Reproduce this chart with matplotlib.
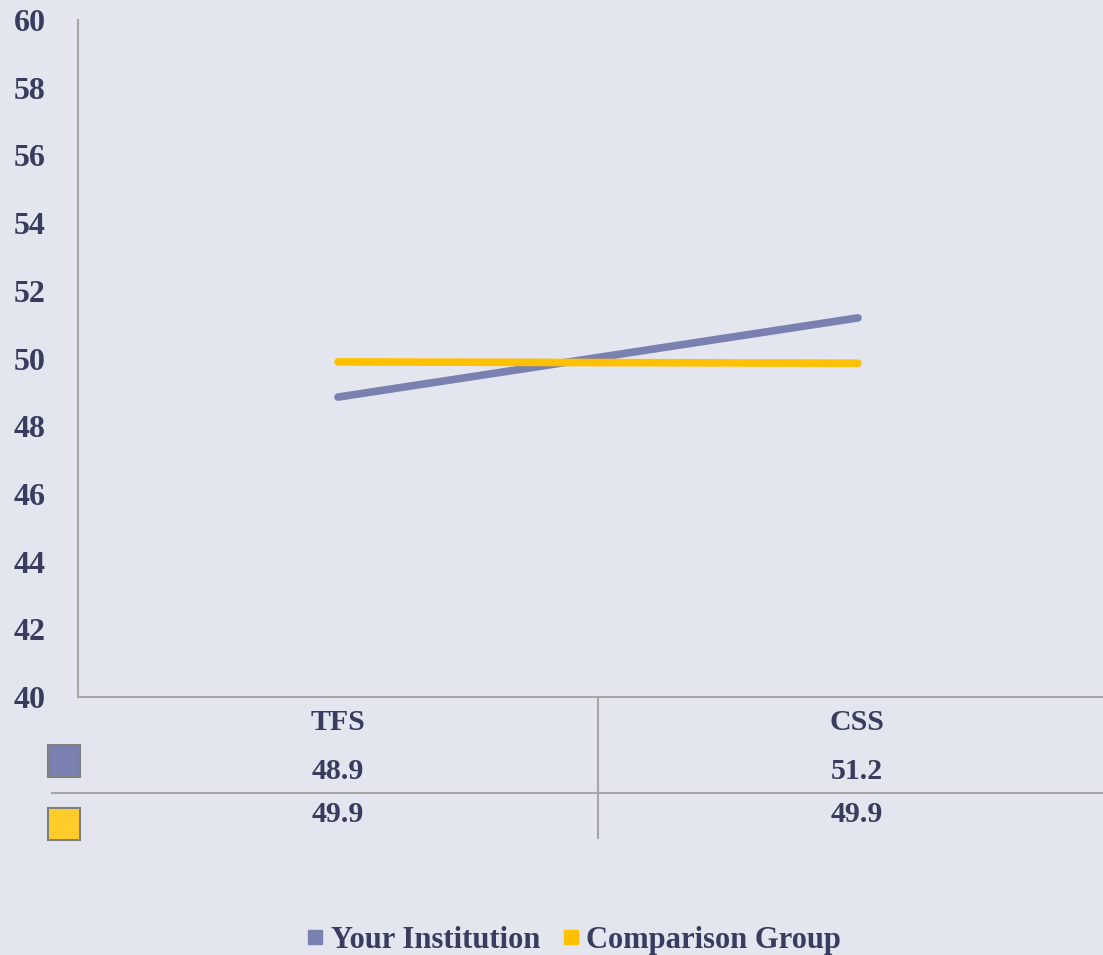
import matplotlib
matplotlib.use("Agg")
import matplotlib.pyplot as plt
from matplotlib.patches import Rectangle
from matplotlib.lines import Line2D

categories = ["TFS", "CSS"]
your_institution = [48.86, 51.2]
comparison_group = [49.9, 49.86]
series_names = ["Your Institution", "Comparison Group"]
yticks = [40, 42, 44, 46, 48, 50, 52, 54, 56, 58, 60]

BG = "#E3E6EE"
TXT = "#383C5E"
C1 = "#7A80B0"
C2 = "#FFC000"
GRID = "#A6A6A6"

plt.rcParams['font.family'] = ['Liberation Serif', 'DejaVu Serif']
plt.rcParams['font.weight'] = 'bold'

fig = plt.figure(figsize=(11.03, 9.55), dpi=100, facecolor=BG)
W, H = 1103, 955
ax = fig.add_axes([78 / W, (H - 697) / H, (1118 - 78) / W, (697 - 20) / H])
ax.set_facecolor(BG)
ax.patch.set_alpha(0)

x = [0.5, 1.5]
ax.plot(x, your_institution, color=C1, lw=5.5, solid_capstyle='round', zorder=3)
ax.plot(x, comparison_group, color=C2, lw=5.5, solid_capstyle='round', zorder=3)

ax.set_xlim(0, 2)
ax.set_ylim(40, 60)
ax.set_yticks(yticks)
ax.set_yticklabels([str(t) for t in yticks], fontsize=23, color=TXT, fontweight='bold')
ax.tick_params(axis='y', length=0, pad=23)
ax.set_xticks([])
for s in ['top', 'right']:
    ax.spines[s].set_visible(False)
for s in ['left', 'bottom']:
    ax.spines[s].set_color(GRID)
    ax.spines[s].set_linewidth(1.5)

# data table
def fx(px):
    return px / W
def fy(py):
    return 1 - py / H

cx = [338, 857]
FS = 21.5
for i, c in enumerate(categories):
    fig.text(fx(cx[i]), fy(722), c, ha='center', va='center', fontsize=FS, color=TXT, fontweight='bold')
    fig.text(fx(cx[i]), fy(771), f"{your_institution[i]:.1f}", ha='center', va='center', fontsize=FS, color=TXT, fontweight='bold')
    fig.text(fx(cx[i]), fy(814), f"{comparison_group[i]:.1f}", ha='center', va='center', fontsize=FS, color=TXT, fontweight='bold')

fig.add_artist(Line2D([fx(598), fx(598)], [fy(697), fy(838)], color=GRID, lw=1.5))
fig.add_artist(Line2D([fx(52), fx(1103)], [fy(793), fy(793)], color=GRID, lw=1.5))
fig.add_artist(Rectangle((fx(48), fy(777)), fx(32), 32 / H, facecolor=C1, edgecolor='#808080', lw=1.5))
fig.add_artist(Rectangle((fx(48), fy(840)), fx(32), 32 / H, facecolor='#FFCC29', edgecolor='#808080', lw=1.5))

# legend
handles = [Line2D([], [], marker='s', ls='none', color=C1, markersize=10),
           Line2D([], [], marker='s', ls='none', color=C2, markersize=10)]
fig.legend(handles, series_names, loc='center', bbox_to_anchor=(fx(572), fy(940)), ncol=2,
           frameon=False, labelcolor=TXT, handletextpad=0.1, columnspacing=0.6,
           handlelength=0.8, prop={'weight': 'bold', 'size': 22})

fig.savefig("out.png", dpi=100, facecolor=BG)
